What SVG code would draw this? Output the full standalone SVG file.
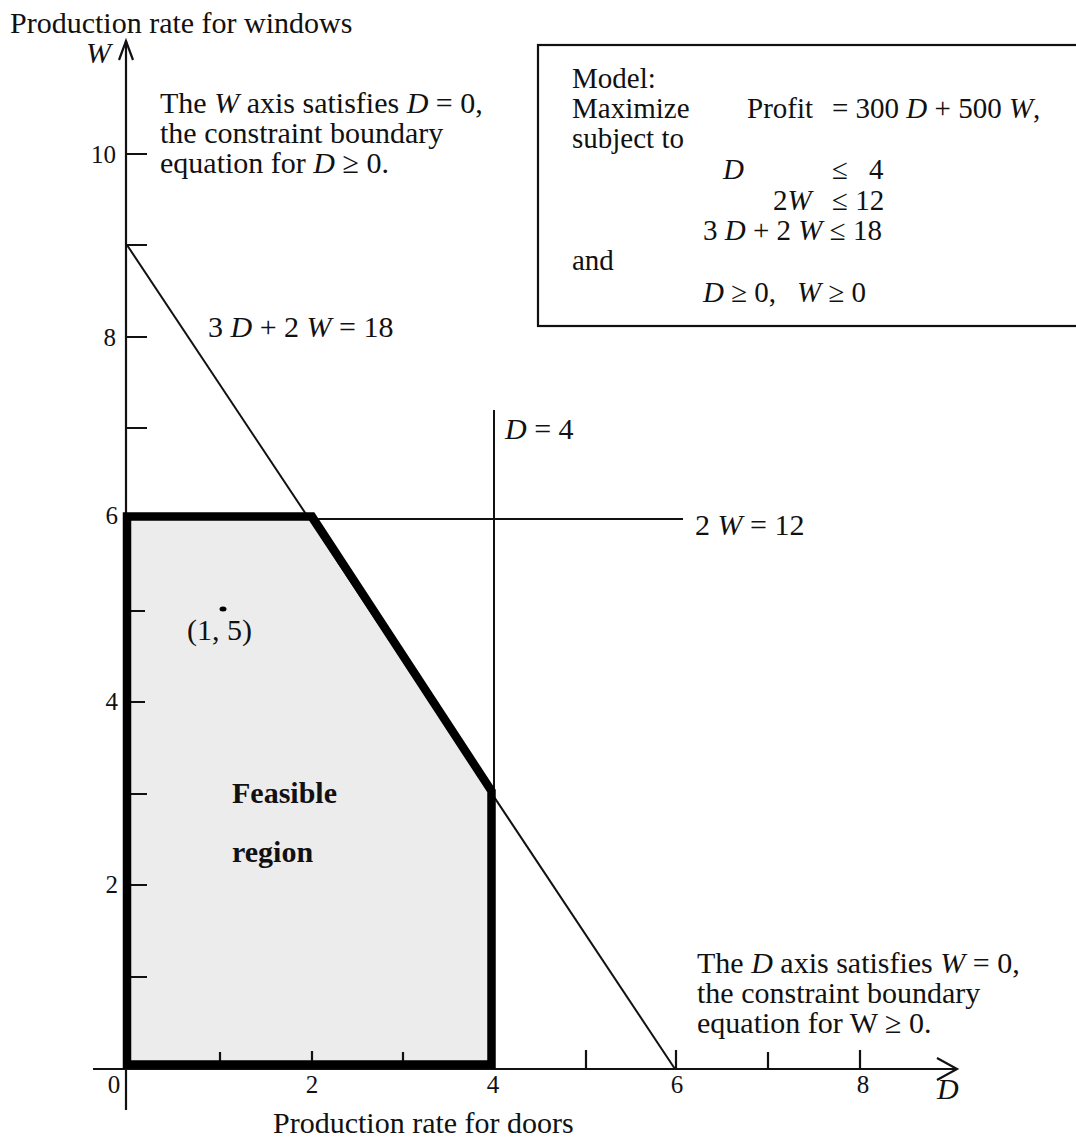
<svg xmlns="http://www.w3.org/2000/svg" width="1076" height="1139" viewBox="0 0 1076 1139">
<style>
text{font-family:"Liberation Serif","Times New Roman",serif;fill:#111;font-size:30px}
.tk{font-size:25px}
.bx{font-size:29px}
.i{font-style:italic}
.b{font-weight:bold}
.thin{stroke:#111;stroke-width:2;fill:none}
.axis{stroke:#111;stroke-width:2.2;fill:none}
.thick{stroke:#000;stroke-width:8.5;fill:none;stroke-linejoin:miter;stroke-linecap:square}
</style>
<rect width="1076" height="1139" fill="#fff"/>
<g id="feasible-region">
<polygon points="127,516.5 312,516.5 491.5,791 491.5,1064.5 127,1064.5" fill="#ececec"/>
</g>
<g id="connectors">
<line class="thin" x1="127" y1="245" x2="675" y2="1069"/>
<line class="thin" x1="126" y1="519" x2="683" y2="519"/>
<line class="thin" x1="494" y1="410" x2="494" y2="1069"/>
<line class="axis" x1="126" y1="41" x2="126" y2="1110"/>
<polyline class="axis" points="119,60 126,41 133,60"/>
<line class="axis" x1="93" y1="1069" x2="957" y2="1069"/>
<polyline class="axis" points="937,1058 957,1069 937,1080"/>
<path class="axis" d="M126 154H147M126 245H147M126 337H147M126 428H147M126 519H147M126 611H145M126 702H145M126 794H147M126 885H147M126 977H147"/>
<path class="axis" d="M220 1069V1052M312 1069V1051M403 1069V1052M586 1069V1050M676 1069V1050M768 1069V1052M860 1069V1050"/>
<polygon class="thick" points="127,516.5 312,516.5 491.5,791 491.5,1064.5 127,1064.5"/>
</g>
<g id="axis-labels">
<text x="10" y="33">Production rate for windows</text>
<text class="i" x="86" y="63">W</text>
<text x="273" y="1133">Production rate for doors</text>
<text class="i" x="937" y="1099">D</text>
<text class="tk" x="116" y="163" text-anchor="end">10</text>
<text class="tk" x="116" y="346" text-anchor="end">8</text>
<text class="tk" x="118" y="524" text-anchor="end">6</text>
<text class="tk" x="118" y="710" text-anchor="end">4</text>
<text class="tk" x="118" y="893" text-anchor="end">2</text>
<text class="tk" x="114" y="1093" text-anchor="middle">0</text>
<text class="tk" x="312" y="1093" text-anchor="middle">2</text>
<text class="tk" x="493" y="1093" text-anchor="middle">4</text>
<text class="tk" x="677" y="1093" text-anchor="middle">6</text>
<text class="tk" x="863" y="1093" text-anchor="middle">8</text>
</g>
<g id="note-w-axis">
<text x="160" y="113">The <tspan class="i">W</tspan> axis satisfies <tspan class="i">D</tspan> = 0,</text>
<text x="160" y="143">the constraint boundary</text>
<text x="160" y="173">equation for <tspan class="i">D</tspan> ≥ 0.</text>
</g>
<g id="note-d-axis">
<text x="697" y="973">The <tspan class="i">D</tspan> axis satisfies <tspan class="i">W</tspan> = 0,</text>
<text x="697" y="1003">the constraint boundary</text>
<text x="697" y="1033">equation for W ≥ 0.</text>
</g>
<g id="label-diag"><text x="208" y="337">3 <tspan class="i">D</tspan> + 2 <tspan class="i">W</tspan> = 18</text></g>
<g id="label-d4"><text x="505" y="439"><tspan class="i">D</tspan> = 4</text></g>
<g id="label-w12"><text x="695" y="535">2 <tspan class="i">W</tspan> = 12</text></g>
<g id="point-1-5">
<ellipse cx="223" cy="609" rx="3.5" ry="2.5" fill="#000"/>
<text x="187" y="640">(1, 5)</text>
</g>
<g id="region-label">
<text class="b" x="232" y="803">Feasible</text>
<text class="b" x="232" y="862">region</text>
</g>
<g id="model-box">
<rect x="538" y="45" width="560" height="281" fill="none" stroke="#111" stroke-width="2.2"/>
<text class="bx" x="572" y="88">Model:</text>
<text class="bx" x="572" y="118">Maximize</text>
<text class="bx" x="747" y="118">Profit</text>
<text class="bx" x="832" y="118">= 300 <tspan class="i">D</tspan> + 500 <tspan class="i">W</tspan>,</text>
<text class="bx" x="572" y="148">subject to</text>
<text class="bx i" x="723" y="179">D</text>
<text class="bx" x="832" y="179">≤</text>
<text class="bx" x="869" y="179">4</text>
<text class="bx" x="773" y="210">2<tspan class="i">W</tspan></text>
<text class="bx" x="832" y="210">≤ 12</text>
<text class="bx" x="703" y="240">3 <tspan class="i">D</tspan> + 2 <tspan class="i">W</tspan> ≤ 18</text>
<text class="bx" x="572" y="270">and</text>
<text class="bx" x="703" y="302"><tspan class="i">D</tspan> ≥ 0,</text>
<text class="bx" x="797" y="302"><tspan class="i">W</tspan> ≥ 0</text>
</g>
</svg>
